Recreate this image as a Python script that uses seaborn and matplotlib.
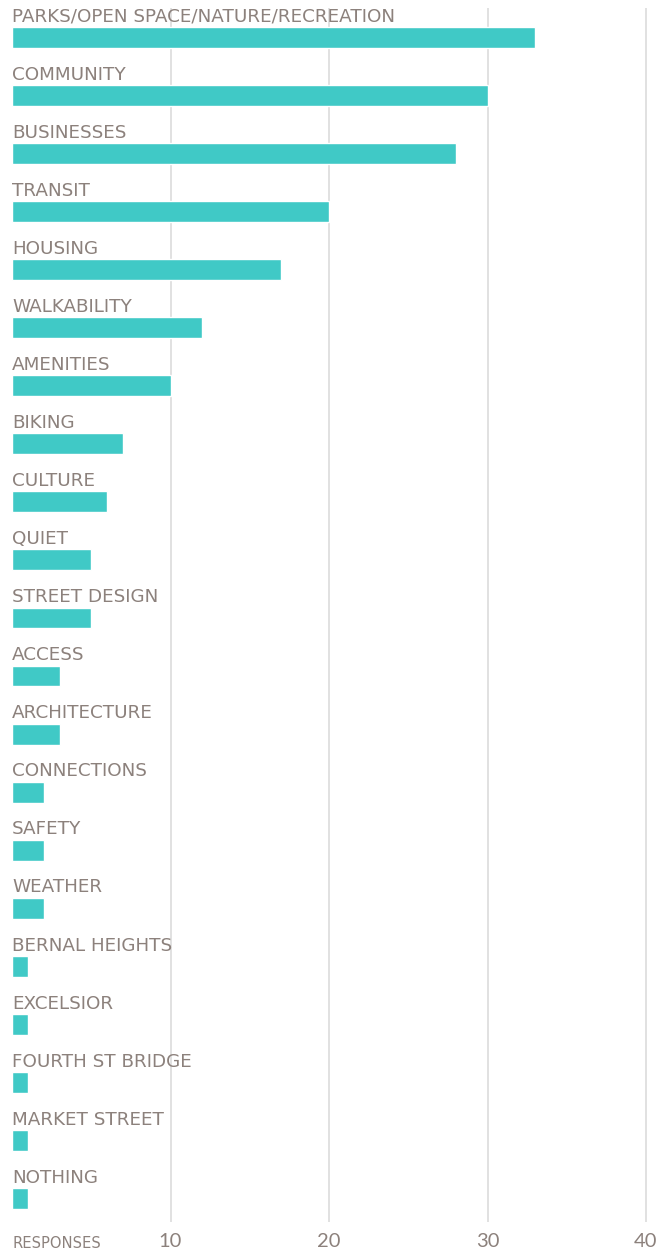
import matplotlib
matplotlib.use("Agg")
import matplotlib.pyplot as plt
import seaborn as sns
import pandas as pd

categories = ["PARKS/OPEN SPACE/NATURE/RECREATION", "COMMUNITY", "BUSINESSES", "TRANSIT",
              "HOUSING", "WALKABILITY", "AMENITIES", "BIKING", "CULTURE", "QUIET",
              "STREET DESIGN", "ACCESS", "ARCHITECTURE", "CONNECTIONS", "SAFETY",
              "WEATHER", "BERNAL HEIGHTS", "EXCELSIOR", "FOURTH ST BRIDGE",
              "MARKET STREET", "NOTHING"]
responses = [33, 30, 28, 20, 17, 12, 10, 7, 6, 5, 5, 3, 3, 2, 2, 2, 1, 1, 1, 1, 1]
x_ticks = [10, 20, 30, 40]
axis_label = "RESPONSES"

BAR = "#40C9C6"
TXT = "#8C817C"
GRID = "#DCDCDC"

sns.set_theme(style="white")
plt.rcParams['font.family'] = ['DejaVu Sans']

W, H = 669, 1251
fig = plt.figure(figsize=(W / 100, H / 100), dpi=100)
left_px, right_px = 12, 662
top_px, bot_px = 8, 1222
ax = fig.add_axes([left_px / W, 1 - bot_px / H, (right_px - left_px) / W, (bot_px - top_px) / H])

df = pd.DataFrame({"cat": categories, "val": responses})
n = len(categories)
sns.barplot(data=df, x="val", y="cat", color=BAR, width=0.36, ax=ax, orient="h",
            saturation=1, zorder=3)

ax.set_xlim(0, (right_px - left_px) / 15.85)
ax.set_ylim(n - 1 + 0.405, -0.508)
ax.set_xticks(x_ticks)
ax.set_xticklabels([str(t) for t in x_ticks], color=TXT, fontsize=14.5, family=['Lato'])
ax.tick_params(axis="x", length=0, pad=8)
ax.set_yticks([])
ax.set_xlabel("")
ax.set_ylabel("")
for s in ax.spines.values():
    s.set_visible(False)
for t in x_ticks:
    ax.axvline(t, color=GRID, lw=1.2, zorder=1)

for i, c in enumerate(categories):
    ax.text(0, i - 0.358, c, color=TXT, fontsize=13.2, va="center", ha="left", zorder=4)

fig.text(12 / W, 1 - 1243 / H, axis_label, color=TXT, fontsize=10.6, va="center",
         ha="left")

fig.savefig("out.png", dpi=100)
